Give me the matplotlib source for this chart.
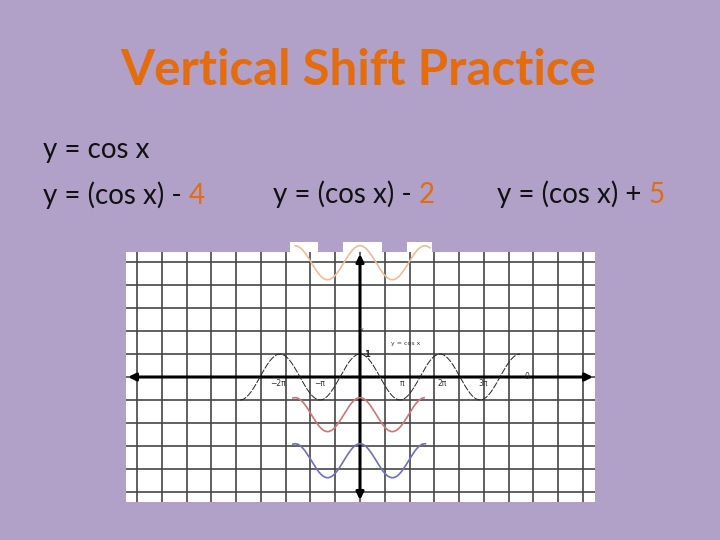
import numpy as np
import matplotlib
matplotlib.use("Agg")
import matplotlib.pyplot as plt
from matplotlib.patches import Rectangle, FancyArrowPatch

# ---------------- data ----------------
title = "Vertical Shift Practice"
eq_lines = [
    ("y = cos x", ""),
    ("y = (cos x) - ", "4"),
    ("y = (cos x) - ", "2"),
    ("y = (cos x) + ", "5"),
]
x_tick_labels = ["\u22122\u03c0", "\u2212\u03c0", "\u03c0", "2\u03c0", "3\u03c0"]
x_tick_values = np.array([-2, -1, 1, 2, 3]) * np.pi
base_range = (-3 * np.pi, 4 * np.pi)          # y = cos x drawn on this domain
# pasted shifted curves (drawn centre, colour, domain in multiples of pi)
shift_names = ["cos x + 5", "cos x - 2", "cos x - 4"]
shift_centres = [4.98, -1.64, -3.65]
shift_colors = ["#E6BF9C", "#C77777", "#6F6FB5"]
shift_domains = [(-2.0, 2.16), (-2.07, 1.98), (-2.07, 2.02)]

# ---------------- style / layout ----------------
BG = "#B1A0C8"
ORANGE = "#E46C0A"
W, H = 720, 540
PX_PER_RAD = 40 / np.pi      # horizontal pixel scale of the small graph
PX_PER_UNIT = 22.94          # vertical pixel scale
X0, Y0 = 360, 377            # origin in pixels
GX = 24.76 / PX_PER_RAD      # grid spacing in radians

fig = plt.figure(figsize=(W / 100, H / 100), dpi=100, facecolor=BG)

def fx(px):
    return px / W

def fy(py):
    return 1 - py / H

# title
fig.text(fx(358.5), fy(85), title, ha="center", va="baseline",
         fontsize=35.4, fontweight="bold", color=ORANGE, family="Lato")

# equations
FS = 20
pos = [(43, 158.3), (43, 204), (273, 203.3), (497, 203.3)]
for (txt, num), (px, py) in zip(eq_lines, pos):
    t = fig.text(fx(px), fy(py), txt, ha="left", va="baseline",
                 fontsize=FS, color="#111111", family="Lato")
    if num:
        fig.canvas.draw()
        bb = t.get_window_extent()
        fig.text(bb.x1 / W, fy(py), num, ha="left", va="baseline",
                 fontsize=FS, color=ORANGE, family="Lato")

# graph axes
L, R, T, B = 126, 595, 252, 502
ax = fig.add_axes([fx(L), fy(B), (R - L) / W, (B - T) / H])
ax.set_facecolor("white")
ax.set_xlim((L - X0) / PX_PER_RAD, (R - X0) / PX_PER_RAD)
ax.set_ylim((Y0 - B) / PX_PER_UNIT, (Y0 - T) / PX_PER_UNIT)
for s in ax.spines.values():
    s.set_visible(False)
ax.set_xticks([])
ax.set_yticks([])

for k in range(-9, 10):
    ax.axvline(k * GX, color="#454545", lw=1.2, zorder=1)
for k in range(-5, 6):
    ax.axhline(k, color="#454545", lw=1.2, zorder=1)

# white bumps of the pasted top image, above the grid box
def px2data(px, py):
    return (px - X0) / PX_PER_RAD, (Y0 - py) / PX_PER_UNIT

for a, b in [(290, 318), (343, 382), (407, 432)]:
    x1, y1 = px2data(a, 253)
    x2, y2 = px2data(b, 242)
    ax.add_patch(Rectangle((x1, y1), x2 - x1, y2 - y1, facecolor="white",
                           edgecolor="none", clip_on=False, zorder=0.5))

# axes arrows
xa1, _ = px2data(128, Y0)
xa2, _ = px2data(593, Y0)
ax.add_patch(FancyArrowPatch((xa1, 0), (xa2, 0), arrowstyle="<|-|>",
                             mutation_scale=11, lw=2.2, color="black",
                             zorder=3, clip_on=False, shrinkA=0, shrinkB=0))
_, ya1 = px2data(X0, 254)
_, ya2 = px2data(X0, 500)
ax.add_patch(FancyArrowPatch((0, ya2), (0, ya1), arrowstyle="<|-|>",
                             mutation_scale=11, lw=2.2, color="black",
                             zorder=3, clip_on=False, shrinkA=0, shrinkB=0))

# base curve y = cos x
xb = np.linspace(base_range[0], base_range[1], 600)
ax.plot(xb, np.cos(xb), color="#222222", lw=0.7,
        linestyle=(0, (7, 1.5)), zorder=4)

# shifted (pasted, smaller) curves
SX, SA = 0.81, 0.74
for c, col, (d0, d1) in zip(shift_centres, shift_colors, shift_domains):
    xs = np.linspace(d0 * np.pi, d1 * np.pi, 400)
    ax.plot(SX * xs, c + SA * np.cos(xs), color=col, lw=1.2, zorder=4,
            clip_on=False)

# small labels on the graph
lab_px = [278, 320, 402, 442, 483]
for lab, v, lp in zip(x_tick_labels, x_tick_values, lab_px):
    ax.text((lp - X0) / PX_PER_RAD, (Y0 - 383.5) / PX_PER_UNIT, lab,
            ha="center", va="center", fontsize=5.5, color="#333333", zorder=5)
ax.text(*px2data(527, 377), "0", ha="center", va="center", fontsize=5.5,
        color="#333333", zorder=5)
ax.text(*px2data(366.5, 355), "1", ha="center", va="center", fontsize=6,
        fontweight="bold", color="#222222", zorder=5)
ax.text(*px2data(406, 343.5), "y = cos x", ha="center", va="center",
        fontsize=4.5, color="#333333", zorder=5)
ax.text(*px2data(361.5, 330), "y", ha="center", va="center",
        fontsize=4.5, color="#333333", zorder=5)

fig.savefig("out.png", dpi=100, facecolor=BG)
